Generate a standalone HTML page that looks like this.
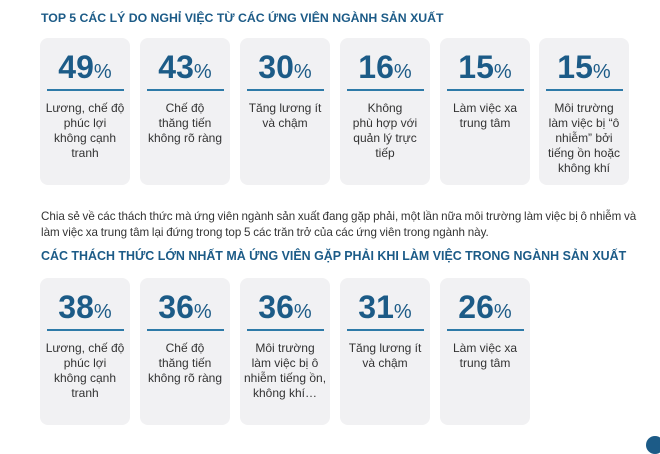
<!DOCTYPE html>
<html><head><meta charset="utf-8"><style>
body{margin:0;width:660px;height:445px;background:#fff;position:relative;overflow:hidden;font-family:"Liberation Sans",sans-serif}
.h{position:absolute;left:41px;font-weight:bold;font-size:12.3px;color:#1c5b87;white-space:nowrap}
.c{position:absolute;width:90px;height:147px;background:#f1f1f3;border-radius:8px;text-align:center}
.n{position:absolute;top:12px;left:0;width:100%;font-size:32px;font-weight:bold;color:#1c5b87;line-height:34px}
.n span{font-size:20px;font-weight:normal}
.l{position:absolute;top:51px;left:7px;width:77px;height:2px;background:#2d7aa8}
.t{position:absolute;top:63px;left:2px;width:86px;font-size:12px;line-height:15px;color:#333}
.p{position:absolute;left:41px;top:209px;font-size:11.6px;line-height:16px;color:#333;white-space:nowrap;word-spacing:-0.5px}
</style></head><body>
<div class="h" style="top:11px">TOP 5 CÁC LÝ DO NGHỈ VIỆC TỪ CÁC ỨNG VIÊN NGÀNH SẢN XUẤT</div>
<div class="c" style="left:40px;top:38px"><div class="n">49<span>%</span></div><div class="l"></div><div class="t">Lương, chế độ<br>phúc lợi<br>không cạnh<br>tranh</div></div>
<div class="c" style="left:140px;top:38px"><div class="n">43<span>%</span></div><div class="l"></div><div class="t">Chế độ<br>thăng tiến<br>không rõ ràng</div></div>
<div class="c" style="left:240px;top:38px"><div class="n">30<span>%</span></div><div class="l"></div><div class="t">Tăng lương ít<br>và chậm</div></div>
<div class="c" style="left:340px;top:38px"><div class="n">16<span>%</span></div><div class="l"></div><div class="t">Không<br>phù hợp với<br>quản lý trực<br>tiếp</div></div>
<div class="c" style="left:440px;top:38px"><div class="n">15<span>%</span></div><div class="l"></div><div class="t">Làm việc xa<br>trung tâm</div></div>
<div class="c" style="left:539px;top:38px"><div class="n">15<span>%</span></div><div class="l"></div><div class="t">Môi trường<br>làm việc bị “ô<br>nhiễm” bởi<br>tiếng ồn hoặc<br>không khí</div></div>
<div class="p">Chia sẻ về các thách thức mà ứng viên ngành sản xuất đang gặp phải, một lần nữa môi trường làm việc bị ô nhiễm và<br>làm việc xa trung tâm lại đứng trong top 5 các trăn trở của các ứng viên trong ngành này.</div>
<div class="h" style="top:249px;font-size:12.45px">CÁC THÁCH THỨC LỚN NHẤT MÀ ỨNG VIÊN GẶP PHẢI KHI LÀM VIỆC TRONG NGÀNH SẢN XUẤT</div>
<div class="c" style="left:40px;top:278px"><div class="n">38<span>%</span></div><div class="l"></div><div class="t">Lương, chế độ<br>phúc lợi<br>không cạnh<br>tranh</div></div>
<div class="c" style="left:140px;top:278px"><div class="n">36<span>%</span></div><div class="l"></div><div class="t">Chế độ<br>thăng tiến<br>không rõ ràng</div></div>
<div class="c" style="left:240px;top:278px"><div class="n">36<span>%</span></div><div class="l"></div><div class="t">Môi trường<br>làm việc bị ô<br>nhiễm tiếng ồn,<br>không khí…</div></div>
<div class="c" style="left:340px;top:278px"><div class="n">31<span>%</span></div><div class="l"></div><div class="t">Tăng lương ít<br>và chậm</div></div>
<div class="c" style="left:440px;top:278px"><div class="n">26<span>%</span></div><div class="l"></div><div class="t">Làm việc xa<br>trung tâm</div></div>
<div style="position:absolute;left:646px;top:436px;width:18px;height:18px;border-radius:50%;background:#1c5b87"></div>
</body></html>
